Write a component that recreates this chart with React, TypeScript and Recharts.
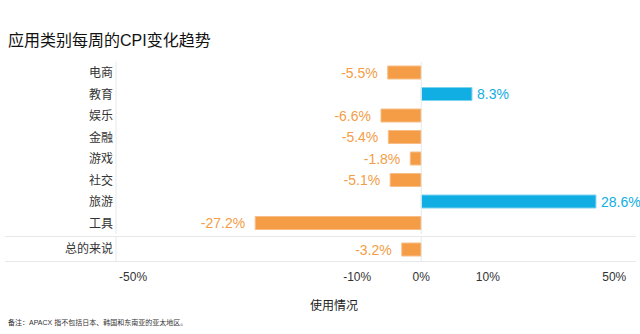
import { BarChart, Bar, XAxis, YAxis, Cell, LabelList, ReferenceLine } from 'recharts';

const categories = ['电商', '教育', '娱乐', '金融', '游戏', '社交', '旅游', '工具'];
const changes = [-5.5, 8.3, -6.6, -5.4, -1.8, -5.1, 28.6, -27.2];
const overallName = '总的来说';
const overallChange = -3.2;
// the source chart prints its axis labels at uneven spots; tickAt holds where they sit on the bar scale
const tickLabels = ['-50%', '-10%', '0%', '10%', '50%'];
const tickAt = [-47.2, -10.5, 0, 10.9, 31.6];

const rows = categories.map((name, i) => ({ name, value: changes[i] }));
const overallRows = [{ name: overallName, value: overallChange }];

const ORANGE = '#F49D46';
const ORANGE_EDGE = '#F8BE86';
const BLUE = '#10AEE3';
const BLUE_EDGE = '#7CD3F0';
const GRID = '#E8E8E8';
const FONT = '"Liberation Sans", Arial, "Noto Sans CJK SC", sans-serif';
const DOMAIN: [number, number] = [-50, 35];

const ValueLabel = (props: any) => {
  const { x, y, width, height, value } = props;
  const left = Math.min(x, x + width);
  const right = Math.max(x, x + width);
  const neg = value < 0;
  return (
    <text
      x={neg ? left - 10 : right + 5}
      y={y + height / 2}
      textAnchor={neg ? 'end' : 'start'}
      dominantBaseline="central"
      fontSize={14}
      fontFamily={FONT}
      fill={neg ? ORANGE : BLUE}
    >
      {`${value}%`}
    </text>
  );
};

const yAxisProps = {
  type: 'category' as const,
  dataKey: 'name',
  width: 116,
  interval: 0,
  tickLine: false,
  tickSize: 0,
  tickMargin: 3,
  axisLine: { stroke: GRID },
  tick: { fill: '#333', fontSize: 12, fontFamily: FONT },
};

function Bars({ data }: { data: { name: string; value: number }[] }) {
  return (
    <Bar dataKey="value" barSize={13} isAnimationActive={false} strokeWidth={1}>
      {data.map((d, i) => (
        <Cell
          key={`c-${i}`}
          fill={d.value < 0 ? ORANGE : BLUE}
          stroke={d.value < 0 ? ORANGE_EDGE : BLUE_EDGE}
        />
      ))}
      <LabelList dataKey="value" content={ValueLabel} />
    </Bar>
  );
}

export default function App() {
  return (
    <div
      style={{
        position: 'absolute',
        left: 0,
        top: 0,
        width: 640,
        height: 334,
        background: '#fff',
        fontFamily: FONT,
        overflow: 'hidden',
      }}
    >
      <div style={{ position: 'absolute', left: 8, top: 31, fontSize: 16, lineHeight: '20px', color: '#111' }}>
        应用类别每周的CPI变化趋势
      </div>

      <div style={{ position: 'absolute', left: 0, top: 62 }}>
        <BarChart width={640} height={172} data={rows} layout="vertical" margin={{ top: 0, right: 5, bottom: 0, left: 0 }}>
          <XAxis type="number" domain={DOMAIN} hide />
          <YAxis {...yAxisProps} />
          <ReferenceLine x={0} stroke={GRID} />
          {Bars({ data: rows })}
        </BarChart>
      </div>

      <div style={{ position: 'absolute', left: 5, top: 236, width: 631, height: 0, borderTop: `1px solid ${GRID}` }} />
      <div style={{ position: 'absolute', left: 5, top: 261, width: 631, height: 0, borderTop: `1px solid ${GRID}` }} />

      <div style={{ position: 'absolute', left: 0, top: 237 }}>
        <BarChart width={640} height={64} data={overallRows} layout="vertical" margin={{ top: 0, right: 5, bottom: 0, left: 0 }}>
          <XAxis
            type="number"
            domain={DOMAIN}
            ticks={tickAt}
            interval={0}
            height={40}
            axisLine={false}
            tickLine={false}
            tickSize={0}
            tickMargin={11}
            tickFormatter={(v: number) => tickLabels[tickAt.indexOf(v)] ?? ''}
            tick={{ fill: '#333', fontSize: 12, fontFamily: FONT }}
          />
          <YAxis {...yAxisProps} />
          <ReferenceLine x={0} stroke={GRID} />
          {Bars({ data: overallRows })}
        </BarChart>
      </div>

      <div
        style={{
          position: 'absolute',
          left: 294,
          width: 80,
          top: 298,
          textAlign: 'center',
          fontSize: 12,
          lineHeight: '16px',
          color: '#222',
        }}
      >
        使用情况
      </div>

      <div style={{ position: 'absolute', left: 8, top: 318, fontSize: 7, lineHeight: '9px', color: '#333' }}>
        备注：APACX 指不包括日本、韩国和东南亚的亚太地区。
      </div>
    </div>
  );
}
